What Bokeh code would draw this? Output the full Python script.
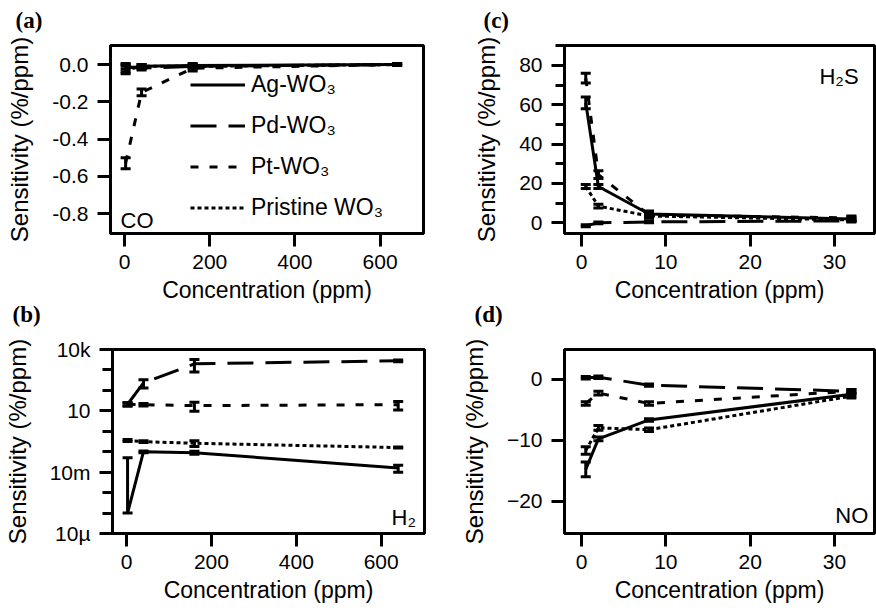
import numpy as np
from bokeh.plotting import figure
from bokeh.layouts import row, column
from bokeh.models import (Range1d, Whisker, TeeHead, ColumnDataSource, Legend, LegendItem,
                          Label, FixedTicker, SingleIntervalTicker, PrintfTickFormatter,
                          CustomJSTickFormatter)
from bokeh.embed import file_html
from bokeh.resources import INLINE

# ---------------- data ----------------
# (a) CO sensitivity (%/ppm)
co_ppm = [2.5, 40, 160, 640]
co_ag = [-0.02, -0.01, -0.005, 0.0]
co_ag_err = [0.02, 0.01, 0.01, 0.005]
co_pd = [-0.01, -0.02, -0.01, 0.0]
co_pd_err = [0.015, 0.01, 0.01, 0.005]
co_pt = [-0.53, -0.15, -0.02, 0.0]
co_pt_err = [0.03, 0.018, 0.015, 0.005]
co_pristine = [-0.03, -0.01, -0.01, 0.0]
co_pristine_err = [0.02, 0.01, 0.01, 0.005]

# (b) H2 sensitivity (%/ppm), log scale
h2_ppm = [2.5, 40, 160, 640]
h2_ag = [1e-4, 0.1, 0.09, 0.016]
h2_ag_err = [0.05, 0.01, 0.015, 0.006]
h2_pd = [21, 230, 2000, 2800]
h2_pd_err = [4, 100, 1200, 300]
h2_pt = [21, 20, 18, 20]
h2_pt_err = [4, 3, 8.5, 9]
h2_pristine = [0.36, 0.31, 0.26, 0.16]
h2_pristine_err = [0.04, 0.03, 0.08, 0.01]

# (c) H2S sensitivity (%/ppm)
h2s_ppm = [0.5, 2, 8, 32]
h2s_ag = [61, 18.5, 4.5, 2.0]
h2s_ag_err = [3, 1, 1.5, 1]
h2s_pd = [-1.5, 0.0, 0.5, 1.0]
h2s_pd_err = [0.5, 0.5, 0.5, 0.5]
h2s_pt = [73.5, 24.5, 4.0, 2.5]
h2s_pt_err = [2.5, 2, 1.5, 1]
h2s_pristine = [18.5, 8.5, 3.5, 1.5]
h2s_pristine_err = [1, 1, 1, 0.8]

# (d) NO sensitivity (%/ppm)
no_ppm = [0.5, 2, 8, 32]
no_ag = [-14.8, -9.8, -6.7, -2.5]
no_ag_err = [1.2, 0.3, 0.2, 0.3]
no_pd = [0.2, 0.3, -1.0, -2.0]
no_pd_err = [0.2, 0.2, 0.2, 0.3]
no_pt = [-4.0, -2.3, -4.0, -2.0]
no_pt_err = [0.3, 0.3, 0.3, 0.3]
no_pristine = [-11.7, -8.0, -8.3, -2.8]
no_pristine_err = [0.6, 0.4, 0.3, 0.3]

# tick positions / labels
conc_ticks_wide = [0, 200, 400, 600]
conc_ticks_narrow = [0, 10, 20, 30]
co_ticks = [-0.8, -0.6, -0.4, -0.2, 0.0]
no_ticks = [-20, -10, 0]
h2_major = [1e-5, 1e-2, 1e1, 1e4]
h2_minor = [1e-4, 1e-3, 1e-1, 1, 1e2, 1e3]

SANS = "Liberation Sans"
SERIF = "Liberation Serif"

DASH = {
    "ag": "solid",
    "pd": "26 12",
    "pt": "8 11",
    "pristine": "4 3",
}


def make_fig(width, height, xr, yr, borders, letter, letter_offset, letter_standoff,
             y_axis_type="linear"):
    left, right, top, bottom = borders
    p = figure(width=width, height=height, x_range=Range1d(*xr), y_range=Range1d(*yr),
               y_axis_type=y_axis_type, output_backend="svg", toolbar_location=None,
               min_border_left=left, min_border_right=right,
               min_border_top=top, min_border_bottom=bottom,
               title=letter)
    p.grid.visible = False
    p.outline_line_color = "black"
    p.outline_line_width = 3
    p.outline_line_alpha = 1
    p.background_fill_color = "white"
    p.border_fill_color = None
    # bold serif panel tag above the top-left corner of the frame
    p.title.align = "left"
    p.title.offset = letter_offset
    p.title.standoff = letter_standoff
    p.title.text_font = SERIF
    p.title.text_font_style = "bold"
    p.title.text_font_size = "23px"
    p.title.text_color = "black"
    p.title.text_line_height = 1.0
    for ax in (p.xaxis[0], p.yaxis[0]):
        ax.axis_line_width = 3
        ax.axis_line_color = "black"
        ax.major_tick_line_width = 3
        ax.major_tick_line_color = "black"
        ax.major_tick_out = 13
        ax.major_tick_in = 0
        ax.minor_tick_line_color = None
        ax.major_label_text_font = SANS
        ax.major_label_text_font_size = "21px"
        ax.major_label_text_color = "black"
        ax.axis_label_text_font = SANS
        ax.axis_label_text_font_style = "normal"
        ax.axis_label_text_color = "black"
    p.xaxis.axis_label = "Concentration (ppm)"
    p.xaxis.axis_label_text_font_size = "23px"
    p.xaxis.major_label_standoff = 8
    p.xaxis.axis_label_standoff = 5
    p.yaxis.axis_label = "Sensitivity (%/ppm)"
    p.yaxis.axis_label_text_font_size = "24px"
    p.yaxis.major_label_standoff = 9
    p.yaxis.axis_label_standoff = 16
    return p


def draw_series(p, x, y, err, dash, positive=False):
    x = np.asarray(x, float)
    y = np.asarray(y, float)
    e = np.asarray(err, float)
    lo = y - e
    if positive:
        lo = np.where(lo > 0, lo, y)
    src = ColumnDataSource(dict(x=x, y=y, lo=lo, hi=y + e))
    r = p.line("x", "y", source=src, line_color="black", line_width=3, line_dash=dash)
    w = Whisker(source=src, base="x", lower="lo", upper="hi",
                line_color="black", line_width=3,
                lower_head=TeeHead(size=10, line_width=3, line_color="black"),
                upper_head=TeeHead(size=10, line_width=3, line_color="black"))
    p.add_layout(w)
    return r


def gas_label(p, x, y, text, align):
    p.add_layout(Label(x=x, y=y, text=text, text_font=SANS, text_font_size="22px",
                       text_color="black", text_align=align, text_baseline="alphabetic"))


# canvases overlap a little (borders are transparent) so the panel tags and
# axis labels can sit where the frames need them
TOP_START = -10
TOP_H = 320
BOTTOM_START = 270
BOTTOM_H = 611 - BOTTOM_START
TOP_FRAME = 45

# ---------------- (a) CO ----------------
pa = make_fig(436, TOP_H, (-33, 702), (-0.907, 0.102),
              (110, 13, TOP_FRAME - TOP_START, TOP_H + TOP_START - 233),
              "(a)", -95, 26)
pa.margin = (TOP_START, 0, 0, 0)
pa.xaxis.ticker = FixedTicker(ticks=conc_ticks_wide)
pa.yaxis.ticker = FixedTicker(ticks=co_ticks)
pa.yaxis.formatter = PrintfTickFormatter(format="%.1f")
ra = draw_series(pa, co_ppm, co_ag, co_ag_err, DASH["ag"])
rd = draw_series(pa, co_ppm, co_pd, co_pd_err, DASH["pd"])
rt = draw_series(pa, co_ppm, co_pt, co_pt_err, DASH["pt"])
rp = draw_series(pa, co_ppm, co_pristine, co_pristine_err, DASH["pristine"])
gas_label(pa, -9.4, -0.835, "CO", "left")
legend = Legend(items=[LegendItem(label="Ag-WO\u2083", renderers=[ra]),
                       LegendItem(label="Pd-WO\u2083", renderers=[rd]),
                       LegendItem(label="Pt-WO\u2083", renderers=[rt]),
                       LegendItem(label="Pristine WO\u2083", renderers=[rp])],
                location=(80, 12), border_line_color=None, background_fill_alpha=0,
                glyph_width=55, glyph_height=27, label_height=27, spacing=14,
                padding=0, margin=0, label_standoff=6,
                label_text_font=SANS, label_text_font_size="23px", label_text_color="black")
pa.add_layout(legend)

# ---------------- (c) H2S ----------------
pc = make_fig(440, TOP_H, (-2.02, 34.74), (-5.4, 90.1),
              (128, 2, TOP_FRAME - TOP_START, TOP_H + TOP_START - 234),
              "(c)", -81, 26)
pc.margin = (TOP_START, 0, 0, 0)
pc.xaxis.ticker = FixedTicker(ticks=conc_ticks_narrow)
pc.yaxis.ticker = SingleIntervalTicker(interval=20, num_minor_ticks=2)
pc.yaxis.minor_tick_line_color = "black"
pc.yaxis.minor_tick_line_width = 3
pc.yaxis.minor_tick_out = 9
pc.yaxis.minor_tick_in = 0
draw_series(pc, h2s_ppm, h2s_pd, h2s_pd_err, DASH["pd"])
draw_series(pc, h2s_ppm, h2s_pristine, h2s_pristine_err, DASH["pristine"])
draw_series(pc, h2s_ppm, h2s_pt, h2s_pt_err, DASH["pt"])
draw_series(pc, h2s_ppm, h2s_ag, h2s_ag_err, DASH["ag"])
gas_label(pc, 32.85, 74.1, "H\u2082S", "right")

# ---------------- (b) H2 ----------------
bottom_margin = BOTTOM_START - (TOP_START + TOP_H)
pb = make_fig(436, BOTTOM_H, (-33, 702), (1e-5, 1e4), (110, 12, 348 - BOTTOM_START, 78),
              "(b)", -100, 46, y_axis_type="log")
pb.margin = (bottom_margin, 0, 0, 0)
pb.xaxis.ticker = FixedTicker(ticks=conc_ticks_wide)
pb.yaxis.ticker = FixedTicker(ticks=h2_major, minor_ticks=h2_minor)
pb.yaxis.formatter = CustomJSTickFormatter(code="""
    const names = {"4": "10k", "1": "10", "-2": "10m", "-5": "10\u00b5"};
    const e = Math.round(Math.log10(tick));
    return names[String(e)] ?? "";
""")
pb.yaxis.minor_tick_line_color = "black"
pb.yaxis.minor_tick_line_width = 3
pb.yaxis.minor_tick_out = 10
pb.yaxis.minor_tick_in = 0
draw_series(pb, h2_ppm, h2_pd, h2_pd_err, DASH["pd"], positive=True)
draw_series(pb, h2_ppm, h2_pt, h2_pt_err, DASH["pt"], positive=True)
draw_series(pb, h2_ppm, h2_pristine, h2_pristine_err, DASH["pristine"], positive=True)
draw_series(pb, h2_ppm, h2_ag, h2_ag_err, DASH["ag"], positive=True)
gas_label(pb, 682, 6.3e-5, "H\u2082", "right")

# ---------------- (d) NO ----------------
pd_ = make_fig(440, BOTTOM_H, (-2.02, 34.74), (-25.3, 4.84), (128, 2, 349 - BOTTOM_START, 75),
               "(d)", -90, 46)
pd_.margin = (bottom_margin, 0, 0, 0)
pd_.xaxis.ticker = FixedTicker(ticks=conc_ticks_narrow)
pd_.yaxis.ticker = FixedTicker(ticks=no_ticks)
draw_series(pd_, no_ppm, no_pd, no_pd_err, DASH["pd"])
draw_series(pd_, no_ppm, no_pt, no_pt_err, DASH["pt"])
draw_series(pd_, no_ppm, no_pristine, no_pristine_err, DASH["pristine"])
draw_series(pd_, no_ppm, no_ag, no_ag_err, DASH["ag"])
gas_label(pd_, 34.0, -22.4, "NO", "right")

layout = column(row(pa, pc), row(pb, pd_))
open("out.html", "w").write(file_html(layout, INLINE))
